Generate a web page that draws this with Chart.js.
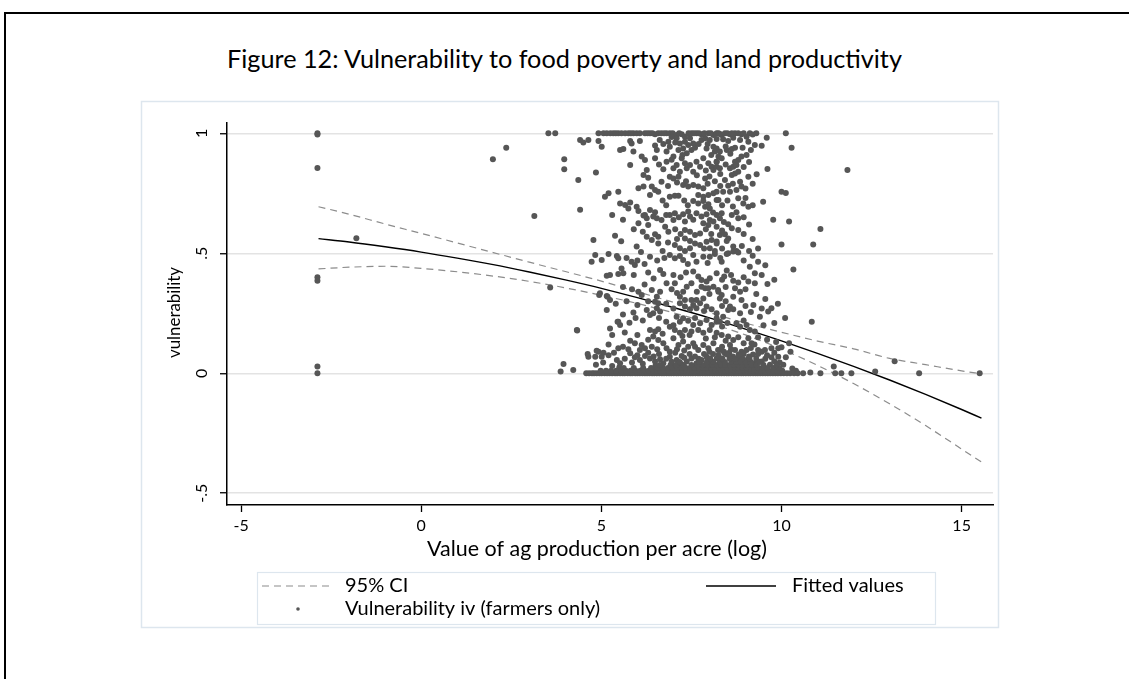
<!DOCTYPE html>
<html>
<head>
<meta charset="utf-8">
<title>Figure 12</title>
<script src="https://cdn.jsdelivr.net/npm/chart.js@4.4.1/dist/chart.umd.min.js"></script>
<style>
  html, body { margin: 0; padding: 0; background: #fff; }
  body { position: relative; width: 1129px; height: 679px; overflow: hidden; font-family: Lato, "Open Sans", sans-serif; }
  #box { position: absolute; left: 4px; top: 12px; width: 1200px; height: 720px; border-top: 2px solid #000; border-left: 2px solid #000; box-sizing: border-box; }
  #fig-title { position: absolute; left: 0; top: 44px; width: 1129px; text-align: center; font-size: 22px; line-height: 28px; color: #000; white-space: nowrap; }
  #fig-title span { display: inline-block; }
  canvas { position: absolute; left: 0; top: 0; }
</style>
</head>
<body>
<div id="box"></div>
<div id="fig-title"><span id="tt">Figure 12: Vulnerability to food poverty and land productivity</span></div>
<canvas id="c" width="1129" height="679"></canvas>
<script>
// ---------- axis ticks ----------
const xTickValues = [-5, 0, 5, 10, 15];
const xTickLabels = ['-5', '0', '5', '10', '15'];
const yTickValues = [-0.5, 0, 0.5, 1];
const yTickLabels = ['-.5', '0', '.5', '1'];

// ---------- quadratic fit and 95% band ----------
const fitX     = [-2.85, -2, -1, 0, 1, 2, 3, 4, 5, 6, 7, 8, 9, 10, 11, 12, 13, 14, 15, 15.55];
const fitted   = [0.561, 0.547, 0.527, 0.505, 0.480, 0.453, 0.422, 0.389, 0.354, 0.315, 0.274, 0.231, 0.184, 0.135, 0.083, 0.029, -0.028, -0.088, -0.151, -0.187];
const ciUpper  = [0.694, 0.663, 0.622, 0.583, 0.543, 0.503, 0.463, 0.424, 0.384, 0.340, 0.296, 0.253, 0.209, 0.171, 0.134, 0.102, 0.062, 0.036, 0.010, -0.002];
const ciLower  = [0.435, 0.442, 0.446, 0.437, 0.423, 0.405, 0.383, 0.356, 0.325, 0.291, 0.252, 0.209, 0.160, 0.101, 0.033, -0.043, -0.127, -0.218, -0.316, -0.370];

// ---------- farmers: [log value per acre, vulnerability] ----------
const farmersIsolated = [
  [-2.88,1],[-2.88,0.995],[-2.88,0.855],[-2.88,0.40],[-2.88,0.386],[-2.88,0.028],[-2.88,0],
  [-1.8,0.563],[1.99,0.892],[2.36,0.94],[3.14,0.655],[3.53,1],[3.72,1],[3.58,0.357],
  [3.87,0.007],[3.95,0.039],[4.22,0.014],[4.33,0.178],[3.97,0.892],[3.97,0.85],
  [10.12,1],[10.28,0.94],[11.83,0.847],[10.0,0.757],[10.12,0.751],[9.49,0.715],[9.77,0.64],
  [10.21,0.632],[11.08,0.601],[10.0,0.537],[10.88,0.537],[9.35,0.52],[10.33,0.432],[10.84,0.215],
  [13.14,0.05],[15.5,0],[13.82,0],[12.6,0.007],[11.94,0],[11.66,0],[11.45,0.028],[11.49,0],
  [11.08,0],[10.8,0.003],[10.6,0],[10.12,0.067],[10.21,0.125],[10.0,0.108]
];
const farmersUpperLeft = [
  [4.92,1],[5.06,1],[5.33,1],[5.47,1],[5.89,1],[5.98,1],[6.07,1],[6.21,1],[6.35,1],[6.49,0.996],
  [6.58,1],[6.81,1],[7.09,0.993],[7.23,0.996],[7.32,0.986],[7.64,1],[7.78,0.996],[7.97,1],[8.11,0.993],[8.2,1],
  [4.41,0.972],[4.64,0.972],[4.5,0.962],[4.92,0.968],[5.01,0.944],[5.8,0.968],[5.84,0.958],[6.07,0.968],
  [6.49,0.949],[6.54,0.93],[6.86,0.965],[6.9,0.944],[6.81,0.924],[7.0,0.903],
  [7.09,0.979],[7.18,0.958],[7.27,0.937],[7.32,0.965],[7.46,0.979],[7.41,0.951],[7.55,0.958],[7.5,0.93],[7.37,0.917],
  [7.78,0.972],[7.88,0.979],[8.01,0.972],[8.2,0.976],[8.11,0.944],[7.92,0.937],[8.15,0.924],
  [5.52,0.93],[5.61,0.935],[5.89,0.924],[6.12,0.903],[6.21,0.889],[6.49,0.896],[5.8,0.868],[6.26,0.847],[6.17,0.826],[6.3,0.815],
  [6.81,0.882],[7.0,0.854],[7.09,0.868],[7.23,0.896],[7.32,0.875],[7.37,0.854],[7.18,0.84],[7.46,0.868],
  [7.64,0.882],[7.74,0.861],[7.83,0.896],[7.97,0.875],[8.06,0.861],[8.2,0.882],[8.11,0.847],
  [6.9,0.819],[7.0,0.812],[7.14,0.819],[4.36,0.805],[4.85,0.837],[7.88,0.812],[6.67,0.798],
  [7.27,0.785],[7.41,0.778],[7.55,0.785],[7.69,0.778],[7.83,0.771],
  [6.03,0.771],[6.17,0.778],[6.4,0.778],[6.49,0.764],[6.58,0.757],[5.47,0.757],[5.2,0.75],[5.1,0.736],[6.35,0.743],
  [6.9,0.736],[7.04,0.74],[7.14,0.74],[7.69,0.743],[7.83,0.736],[7.97,0.743],[8.11,0.75],
  [7.55,0.718],[7.69,0.708],[7.83,0.718],[7.97,0.704],[8.2,0.722],[8.01,0.687],[7.88,0.694],
  [5.52,0.708],[5.66,0.701],[5.8,0.712],[5.98,0.694],[6.03,0.676],[4.41,0.681],
  [6.35,0.68],[6.49,0.671],[6.44,0.653],[6.54,0.646],[6.21,0.66],[5.75,0.687],[6.17,0.657],[6.26,0.646],
  [6.9,0.66],[7.04,0.667],[7.0,0.639],[7.27,0.663],[7.41,0.674],[7.46,0.653],[7.32,0.632],
  [7.64,0.667],[7.78,0.653],[7.92,0.663],[8.01,0.639],[7.83,0.625],[7.97,0.618],[8.11,0.632],[8.2,0.66],
  [6.67,0.639],[6.03,0.625],[6.77,0.611],[6.86,0.59],[6.3,0.618],
  [7.32,0.597],[7.46,0.59],[7.6,0.576],[7.74,0.583],[6.49,0.579],[6.58,0.569],
  [7.32,0.562],[7.46,0.551],[7.6,0.541],[7.74,0.535],[7.92,0.548],[8.06,0.555],[8.2,0.541],
  [6.26,0.569],[6.4,0.555],[6.58,0.541],[4.78,0.555],[5.38,0.573],[5.98,0.528],
  [7.04,0.535],[7.18,0.521],[7.32,0.51],[7.46,0.521],[8.01,0.521],[8.15,0.51]
];
const farmersUpperRight = [
  [8.25,1],[8.34,0.993],[8.43,1],[8.57,0.996],[8.71,1],[8.8,1],[8.89,0.996],[9.03,0.986],[8.85,0.972],[8.66,0.982],[8.52,0.968],
  [9.08,0.965],[9.26,0.951],[9.45,0.948],[9.59,0.982],
  [8.2,0.937],[8.29,0.924],[8.48,0.93],[8.62,0.935],[8.71,0.94],
  [8.25,0.903],[8.34,0.896],[8.2,0.882],[8.89,0.903],[9.03,0.91],[8.8,0.889],[8.71,0.882],
  [8.2,0.861],[8.29,0.854],[8.57,0.854],[8.66,0.861],[8.75,0.868],
  [8.62,0.826],[8.8,0.84],[8.71,0.833],[9.08,0.819],[9.31,0.829],[9.61,0.851],
  [8.43,0.805],[8.52,0.782],[8.85,0.798],[8.89,0.778],[8.75,0.764],
  [8.2,0.757],[8.38,0.757],[8.57,0.757],
  [8.25,0.722],[8.8,0.729],[8.94,0.708],[9.08,0.694],
  [8.34,0.667],[8.29,0.646],[8.62,0.66],[8.75,0.671],[8.8,0.646],
  [8.2,0.611],[8.52,0.621],[8.62,0.604],[8.8,0.597],
  [8.29,0.576],[8.43,0.579],[8.52,0.562],[8.2,0.549],[8.48,0.551],
  [8.66,0.528],[8.75,0.51],[8.52,0.5]
];
const farmersUpperDense = [
  [5.15,1],[5.25,1],[5.4,1],[5.56,1],[5.66,1],[5.75,1],[5.82,1],[6.28,1],[6.42,1],[6.66,1],[6.74,1],[6.9,1],[6.98,1],
  [7.16,1],[7.42,1],[7.5,1],[7.57,1],[7.71,1],[7.86,1],[8.04,1],[8.28,0.998],[8.5,1],[8.62,1],[8.95,1],[9.12,1],[9.2,0.995],[9.3,1],
  [6.62,0.972],[6.72,0.955],[6.95,0.985],[7.05,0.962],[7.14,0.93],[7.25,0.91],[7.6,0.94],[7.7,0.955],[7.95,0.955],[8.05,0.91],
  [8.38,0.975],[8.45,0.945],[8.58,0.915],[8.92,0.94],[9.15,0.93],
  [6.6,0.87],[6.72,0.85],[6.95,0.89],[7.55,0.84],[7.65,0.825],[7.9,0.845],[8.0,0.82],[8.3,0.83],[8.45,0.87],[8.95,0.86],[9.1,0.88],
  [6.85,0.78],[7.1,0.795],[7.35,0.8],[7.95,0.79],[8.15,0.8],[8.3,0.78],[8.65,0.79],[9.0,0.77],[9.2,0.79],
  [6.7,0.72],[6.8,0.7],[7.3,0.72],[7.4,0.7],[8.35,0.7],[8.5,0.72],[8.65,0.695],[9.0,0.73],[9.2,0.7],
  [5.3,0.66],[5.6,0.64],[6.8,0.66],[7.15,0.65],[7.55,0.64],[8.1,0.67],[8.4,0.63],[8.95,0.65],[9.1,0.62],
  [5.9,0.6],[6.15,0.59],[7.05,0.6],[7.2,0.58],[7.9,0.6],[8.05,0.58],[8.35,0.595],[8.95,0.58],[9.2,0.56],
  [5.55,0.55],[6.85,0.545],[7.1,0.56],[7.85,0.52],[8.35,0.52],[8.9,0.53],[9.1,0.51],[6.7,0.51],[6.1,0.505]
];
const farmersMidLeft = [
  [4.83,0.493],[5.2,0.497],[5.43,0.489],[5.47,0.479],[5.01,0.472],[4.73,0.465],
  [5.84,0.465],[5.93,0.451],[6.35,0.486],[6.9,0.493],[7.04,0.479],[7.18,0.489],[7.27,0.472],[7.55,0.493],[7.64,0.465],[7.83,0.486],[8.01,0.486],[8.15,0.497],
  [5.56,0.437],[5.61,0.417],[5.47,0.414],[5.24,0.41],[5.15,0.406],
  [6.63,0.43],[6.72,0.414],[7.0,0.41],
  [7.55,0.424],[7.69,0.403],[7.78,0.389],[7.92,0.382],[8.01,0.396],[8.2,0.417],
  [6.81,0.375],[7.04,0.375],
  [6.03,0.34],[6.12,0.326],[6.4,0.347],[6.54,0.319],[6.63,0.34],
  [7.27,0.34],[7.37,0.361],[7.5,0.375],[7.78,0.361],[7.88,0.354],[7.97,0.354],[8.11,0.361],[8.24,0.347],
  [4.96,0.333],[5.15,0.322],[5.24,0.305],[4.94,0.326],[5.17,0.319],
  [6.49,0.298],[6.58,0.292],[6.54,0.271],[6.63,0.257],[6.44,0.25],
  [7.18,0.319],[7.32,0.305],[7.5,0.305],[7.64,0.305],[7.83,0.312],
  [7.18,0.292],[7.32,0.278],[7.46,0.267],[7.64,0.271],[7.74,0.292],[7.92,0.278],[8.06,0.267],[8.2,0.25],
  [5.15,0.264],[5.89,0.253],[6.26,0.264],[6.35,0.243],
  [5.47,0.215],[5.52,0.201],[5.78,0.211],[5.24,0.187],[4.32,0.18],[5.45,0.215],
  [7.09,0.236],[7.18,0.215],[7.27,0.229],[7.41,0.219],[7.55,0.201],[7.74,0.208],[7.92,0.222],[8.06,0.201],[8.2,0.215],
  [6.9,0.194],[7.04,0.18],[7.18,0.169],[7.32,0.18],[7.5,0.174],[7.69,0.18],[7.83,0.169],[8.01,0.18],[8.2,0.169],
  [6.35,0.18],[6.49,0.174],[6.58,0.183],
  [5.8,0.136],[5.93,0.125],[6.12,0.118],[6.21,0.104],[6.07,0.097],[5.47,0.104],
  [4.92,0.09],[4.83,0.069],[5.01,0.069],[4.64,0.069],[4.87,0.094],[5.06,0.086],[4.62,0.08],
  [6.44,0.153],[6.58,0.139],[6.72,0.125],[6.81,0.104],[6.9,0.09],
  [7.0,0.146],[7.14,0.118],[7.27,0.132],[7.41,0.111],[7.55,0.125],[7.69,0.097],[7.83,0.118],[7.97,0.104],[8.11,0.125],[8.24,0.097],
  [5.43,0.055],[5.52,0.042],
  [5.8,0.083],[5.93,0.067],[6.07,0.055],[6.21,0.072],[6.35,0.062],[6.49,0.049],[6.63,0.058],[6.72,0.042],
  [6.9,0.069],[7.09,0.055],[7.23,0.072],[7.37,0.049],[7.5,0.062],[7.64,0.042],[7.78,0.055],[7.92,0.069],[8.06,0.049],[8.2,0.062]
];
const farmersMidRight = [
  [8.48,0.497],[8.66,0.507],[8.8,0.503],[8.34,0.465],[9.12,0.444],[9.35,0.465],
  [8.48,0.428],[8.41,0.403],[8.66,0.386],[8.8,0.378],[9.08,0.382],[9.26,0.375],[9.26,0.417],[9.61,0.372],
  [8.25,0.34],[8.34,0.326],[8.29,0.312],[8.71,0.354],[8.85,0.34],[8.66,0.319],[8.89,0.305],
  [8.57,0.278],[8.52,0.264],[8.66,0.267],[9.22,0.285],
  [8.85,0.25],[9.63,0.257],[9.72,0.271],[9.4,0.236],
  [8.2,0.229],[8.29,0.215],[8.38,0.236],
  [8.75,0.208],[8.85,0.194],[9.03,0.201],[9.12,0.18],[9.26,0.174],[9.35,0.15],
  [8.34,0.16],[8.52,0.153],[8.66,0.139],[8.57,0.118],
  [9.08,0.146],[9.17,0.125],[9.35,0.097],[9.54,0.097],[9.72,0.104],[9.91,0.104],
  [8.29,0.097],[8.43,0.083],[8.71,0.097],[8.89,0.09],[9.03,0.097],[9.91,0.069],[9.72,0.067],
  [8.34,0.055],[8.57,0.062],[8.8,0.049],[9.03,0.055],[9.26,0.042],[9.45,0.049],[9.68,0.035]
];
const farmersMidDense = [
  [5.7,0.48],[6.0,0.47],[6.2,0.455],[6.55,0.47],[6.75,0.48],[7.4,0.455],[7.95,0.46],[8.3,0.48],[8.95,0.47],[9.2,0.49],[9.55,0.45],
  [5.9,0.41],[6.3,0.42],[6.45,0.395],[7.2,0.4],[7.35,0.42],[8.35,0.39],[8.6,0.41],[8.95,0.4],[9.45,0.41],[9.8,0.39],
  [5.6,0.36],[5.85,0.35],[6.2,0.37],[6.95,0.35],[7.1,0.335],[7.65,0.34],[8.0,0.33],[8.45,0.36],[9.0,0.35],[9.3,0.33],[9.55,0.31],
  [5.4,0.29],[5.7,0.3],[6.0,0.285],[6.3,0.3],[6.8,0.29],[7.0,0.27],[7.55,0.285],[7.85,0.26],[8.35,0.28],[8.45,0.3],[9.0,0.28],
  [9.15,0.255],[9.45,0.27],[9.9,0.29],
  [5.6,0.245],[5.95,0.23],[6.15,0.22],[6.6,0.23],[6.8,0.215],[7.0,0.2],[7.6,0.23],[8.35,0.195],[8.5,0.21],[8.95,0.22],[9.5,0.2],
  [9.8,0.21],[10.1,0.23],
  [5.3,0.16],[5.65,0.17],[6.0,0.16],[6.3,0.14],[6.7,0.165],[7.25,0.155],[7.45,0.16],[7.9,0.145],[8.15,0.15],[8.45,0.135],
  [8.8,0.15],[8.95,0.125],[9.25,0.12],[9.6,0.14],[9.85,0.13],
  [5.2,0.12],[5.6,0.11],[5.75,0.1],[6.4,0.11],[6.55,0.1],[7.1,0.1],[7.3,0.095],[7.6,0.11],[8.0,0.09],[8.35,0.11],[8.6,0.1],
  [9.15,0.105],[9.45,0.09],[9.8,0.085],[10.25,0.09],
  [5.2,0.075],[5.35,0.085],[5.65,0.06],[5.85,0.045],[6.0,0.075],[6.15,0.04],[6.3,0.085],[6.45,0.07],[6.6,0.08],[6.8,0.06],
  [6.95,0.048],[7.05,0.085],[7.2,0.04],[7.3,0.065],[7.45,0.08],[7.6,0.07],[7.7,0.06],[7.85,0.08],[7.95,0.06],[8.1,0.08],
  [8.25,0.075],[8.4,0.09],[8.55,0.085],[8.65,0.07],[8.85,0.065],[8.95,0.08],[9.1,0.07],[9.3,0.06],[9.35,0.08],[9.55,0.06],
  [9.6,0.075],[9.8,0.05],[9.95,0.045],[10.05,0.035],[5.05,0.045],[4.85,0.035],[5.3,0.03],[5.5,0.025],[6.5,0.03],[10.3,0.02],[10.4,0.01]
];
// the crowded strip of farmers at or just above zero vulnerability
const farmersZeroBand = [
  [4.58,0],[4.66,0],[4.74,0],[4.8,0],[4.87,0],[4.95,0],[5.01,0],[5.09,0],[5.16,0],[5.23,0],[5.3,0],[5.38,0],[5.44,0],[5.52,0],
  [5.59,0],[5.65,0],[5.73,0],[5.8,0],[5.86,0],[5.94,0],[6.0,0],[6.07,0],[6.14,0],[6.21,0],[6.27,0],[6.34,0],[6.41,0],[6.47,0],
  [6.54,0],[6.61,0],[6.68,0],[6.74,0],[6.81,0],[6.88,0],[6.94,0],[7.01,0],[7.08,0],[7.14,0],[7.21,0],[7.28,0],[7.34,0],[7.41,0],
  [7.48,0],[7.54,0],[7.61,0],[7.68,0],[7.74,0],[7.81,0],[7.88,0],[7.94,0],[8.01,0],[8.08,0],[8.14,0],[8.21,0],[8.28,0],[8.34,0],
  [8.41,0],[8.48,0],[8.54,0],[8.61,0],[8.68,0],[8.74,0],[8.81,0],[8.88,0],[8.94,0],[9.01,0],[9.08,0],[9.14,0],[9.21,0],[9.28,0],
  [9.34,0],[9.41,0],[9.48,0],[9.55,0],[9.62,0],[9.69,0],[9.76,0],[9.83,0],[9.9,0],[9.98,0],[10.06,0],[10.15,0],[10.24,0],[10.35,0],[10.45,0],
  [4.98,0.01],[5.13,0.01],[5.27,0.01],[5.41,0.01],[5.55,0.01],[5.68,0.01],[5.81,0.01],[5.95,0.01],[6.08,0.01],[6.2,0.01],
  [6.32,0.01],[6.44,0.01],[6.55,0.01],[6.65,0.01],[6.76,0.01],[6.86,0.01],[6.96,0.01],[7.06,0.01],[7.16,0.01],[7.25,0.01],
  [7.35,0.01],[7.44,0.01],[7.53,0.01],[7.62,0.01],[7.71,0.01],[7.8,0.01],[7.89,0.01],[7.98,0.01],[8.07,0.01],[8.16,0.01],
  [8.25,0.01],[8.34,0.01],[8.43,0.01],[8.52,0.01],[8.61,0.01],[8.7,0.01],[8.79,0.01],[8.88,0.01],[8.97,0.01],[9.06,0.01],
  [9.15,0.01],[9.24,0.01],[9.33,0.01],[9.43,0.01],[9.53,0.01],[9.64,0.01],[9.76,0.01],[9.88,0.01],[10.02,0.01],
  [5.62,0.022],[5.9,0.022],[6.16,0.022],[6.38,0.022],[6.56,0.022],[6.71,0.022],[6.85,0.022],[6.98,0.022],[7.11,0.022],
  [7.23,0.022],[7.35,0.022],[7.47,0.022],[7.59,0.022],[7.71,0.022],[7.83,0.022],[7.94,0.022],[8.05,0.022],[8.16,0.022],
  [8.27,0.022],[8.38,0.022],[8.49,0.022],[8.6,0.022],[8.71,0.022],[8.81,0.022],[8.92,0.022],[9.03,0.022],[9.14,0.022],
  [9.25,0.022],[9.36,0.022],[9.48,0.022],[9.61,0.022],[9.77,0.022],[9.94,0.022],
  [6.62,0.034],[6.92,0.034],[7.07,0.034],[7.29,0.034],[7.5,0.034],[7.66,0.034],[7.81,0.034],[7.96,0.034],[8.09,0.034],
  [8.21,0.034],[8.33,0.034],[8.45,0.034],[8.57,0.034],[8.69,0.034],[8.81,0.034],[8.93,0.034],[9.06,0.034],[9.19,0.034],
  [9.31,0.034],[9.5,0.034],[9.86,0.034],
  [7.17,0.047],[7.71,0.047],[7.93,0.047],[8.11,0.047],[8.29,0.047],[8.43,0.047],[8.61,0.047],[8.75,0.047],[8.87,0.047],
  [9.01,0.047],[9.15,0.047],[9.39,0.047],
  [8.02,0.062],[8.36,0.062],[8.56,0.062],[8.73,0.062],[8.91,0.062],[9.11,0.062],
  [8.49,0.078],[8.81,0.078],[9.21,0.078]
];

const seriesNames = ['95% CI', 'Fitted values', 'Vulnerability iv (farmers only)'];
const axisTitles = { x: 'Value of ag production per acre (log)', y: 'vulnerability' };

// ---------- page layout (pixels) ----------
const FONT = 'Lato, "Open Sans", sans-serif';
const plot = { left: 227, right: 993, top: 123, bottom: 505 };
const region = { left: 141.5, top: 101.5, right: 998.5, bottom: 627.5 };
const legendBox = { left: 257.5, top: 572.5, right: 935.5, bottom: 624.5 };

// fit the page heading to its printed width
(function () {
  const span = document.getElementById('tt');
  const w = span.getBoundingClientRect().width;
  span.style.fontSize = (22 * 675 / w).toFixed(2) + 'px';
})();

function sizeForWidth(ctx, text, width) {
  ctx.font = '100px ' + FONT;
  return 100 * width / ctx.measureText(text).width;
}

const toPoints = arr => arr.map(p => ({ x: p[0], y: p[1] }));
const farmers = toPoints([].concat(farmersIsolated, farmersUpperLeft, farmersUpperRight, farmersUpperDense,
                                   farmersMidLeft, farmersMidRight, farmersMidDense, farmersZeroBand));
const line = ys => fitX.map((x, i) => ({ x, y: ys[i] }));

const ciStyle = { borderColor: '#8c8c8c', borderWidth: 1.2, borderDash: [7, 5] };

const decorations = {
  id: 'decorations',
  beforeDraw(chart) {
    const ctx = chart.ctx;
    ctx.save();
    ctx.strokeStyle = '#dde6ee';
    ctx.lineWidth = 1.5;
    ctx.strokeRect(region.left, region.top, region.right - region.left, region.bottom - region.top);
    ctx.restore();
  },
  afterDraw(chart) {
    const ctx = chart.ctx;
    const ys = chart.scales.y;
    ctx.save();
    ctx.fillStyle = '#000';

    // rotated y tick labels
    ctx.font = '16px ' + FONT;
    ctx.textAlign = 'center';
    ctx.textBaseline = 'middle';
    yTickValues.forEach((v, i) => {
      ctx.save();
      ctx.translate(202, ys.getPixelForValue(v));
      ctx.rotate(-Math.PI / 2);
      ctx.fillText(yTickLabels[i], 0, 0);
      ctx.restore();
    });

    // y axis title
    let fs = sizeForWidth(ctx, axisTitles.y, 91);
    ctx.font = fs.toFixed(2) + 'px ' + FONT;
    ctx.save();
    ctx.translate(175, 312.5);
    ctx.rotate(-Math.PI / 2);
    ctx.fillText(axisTitles.y, 0, 0);
    ctx.restore();

    // x axis title
    fs = sizeForWidth(ctx, axisTitles.x, 340);
    ctx.font = fs.toFixed(2) + 'px ' + FONT;
    ctx.fillText(axisTitles.x, 597, 549);

    // legend
    ctx.strokeStyle = '#dde6ee';
    ctx.lineWidth = 1.2;
    ctx.strokeRect(legendBox.left, legendBox.top, legendBox.right - legendBox.left, legendBox.bottom - legendBox.top);

    const row1 = 586, row2 = 609;
    const dsCI = chart.data.datasets[2];
    const dsFit = chart.data.datasets[1];
    const dsPts = chart.data.datasets[0];

    ctx.strokeStyle = dsCI.borderColor;
    ctx.lineWidth = dsCI.borderWidth;
    ctx.setLineDash(dsCI.borderDash);
    ctx.beginPath(); ctx.moveTo(262, row1); ctx.lineTo(331, row1); ctx.stroke();
    ctx.setLineDash([]);

    ctx.strokeStyle = dsFit.borderColor;
    ctx.lineWidth = dsFit.borderWidth;
    ctx.beginPath(); ctx.moveTo(706, row1); ctx.lineTo(776, row1); ctx.stroke();

    ctx.fillStyle = dsPts.pointBackgroundColor;
    ctx.beginPath(); ctx.arc(298, row2, 1.8, 0, Math.PI * 2); ctx.fill();

    ctx.font = '20px ' + FONT;
    ctx.fillStyle = '#000';
    ctx.textAlign = 'left';
    ctx.fillText(seriesNames[0], 345, row1);
    ctx.fillText(seriesNames[1], 792, row1);
    ctx.fillText(seriesNames[2], 345, row2);
    ctx.restore();
  }
};

new Chart(document.getElementById('c'), {
  type: 'scatter',
  data: {
    datasets: [
      { label: seriesNames[2], data: farmers, order: 0,
        pointBackgroundColor: '#565656', pointBorderWidth: 0, pointRadius: 3, pointHoverRadius: 3, showLine: false },
      { label: seriesNames[1], data: line(fitted), order: 1, showLine: true, pointRadius: 0,
        borderColor: '#000', borderWidth: 1.4, cubicInterpolationMode: 'monotone', fill: false },
      Object.assign({ label: seriesNames[0], data: line(ciUpper), order: 2, showLine: true, pointRadius: 0,
        cubicInterpolationMode: 'monotone', fill: false }, ciStyle),
      Object.assign({ label: seriesNames[0], data: line(ciLower), order: 2, showLine: true, pointRadius: 0,
        cubicInterpolationMode: 'monotone', fill: false }, ciStyle)
    ]
  },
  options: {
    responsive: false,
    animation: false,
    devicePixelRatio: 1,
    layout: { padding: { left: 150, right: 1129 - plot.right, top: plot.top, bottom: 100 } },
    plugins: { legend: { display: false }, tooltip: { enabled: false }, title: { display: false } },
    scales: {
      x: {
        type: 'linear', min: -5.39, max: 15.87,
        afterFit: s => { s.height = 679 - plot.bottom - 100; },
        afterBuildTicks: s => { s.ticks = xTickValues.map(v => ({ value: v })); },
        ticks: { autoSkip: false, maxRotation: 0, minRotation: 0, padding: 4, color: '#000',
                 font: { family: FONT, size: 16 }, callback: (v, i) => xTickLabels[i] },
        grid: { drawOnChartArea: false, drawTicks: true, tickLength: 7, tickColor: '#000', tickWidth: 1.3 },
        border: { display: true, color: '#000', width: 1.5 }
      },
      y: {
        type: 'linear', min: -0.549, max: 1.043,
        afterFit: s => { s.width = plot.left - 150; },
        afterBuildTicks: s => { s.ticks = yTickValues.map(v => ({ value: v })); },
        ticks: { display: false },
        grid: { color: '#e3e3e3', lineWidth: 1.5, drawTicks: true, tickLength: 7, tickColor: '#000', tickWidth: 1.3 },
        border: { display: true, color: '#000', width: 1.5 }
      }
    }
  },
  plugins: [decorations]
});
</script>
</body>
</html>
